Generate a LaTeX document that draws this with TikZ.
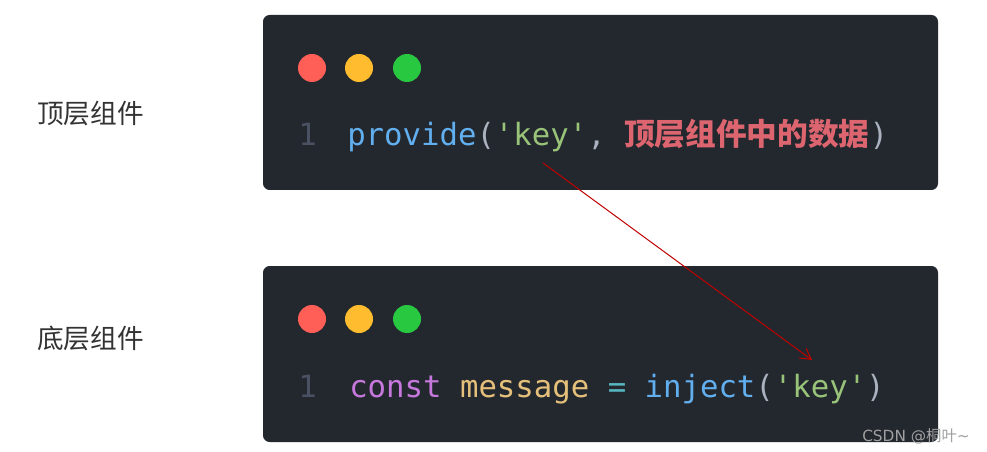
\documentclass[tikz,border=0pt]{standalone}
\usepackage{fontspec}
\setmainfont{DejaVu Sans}
\setmonofont{DejaVu Sans Mono}
\newfontfamily\cjk{Noto Sans CJK SC}
\usepackage{tikz}
\usetikzlibrary{arrows.meta}
\usepackage{xcolor}
\definecolor{panel}{HTML}{23272E}
\definecolor{linenum}{HTML}{495162}
\definecolor{fnblue}{HTML}{61AFEF}
\definecolor{strgreen}{HTML}{98C379}
\definecolor{cjkred}{HTML}{DC6570}
\definecolor{paren}{HTML}{ABB2BF}
\definecolor{kwpurple}{HTML}{C678DD}
\definecolor{varyellow}{HTML}{E5C07B}
\definecolor{opcyan}{HTML}{56B6C2}
\definecolor{dotred}{HTML}{FF5F57}
\definecolor{dotyellow}{HTML}{FEBC2E}
\definecolor{dotgreen}{HTML}{28C840}
\definecolor{labelgray}{HTML}{333333}
\definecolor{markgray}{HTML}{A0A0A0}
\definecolor{linkred}{HTML}{C00000}
\newcommand{\keystr}{\textcolor{strgreen}{'key'}}

\begin{document}
\begin{tikzpicture}[x=0.75pt,y=-0.75pt]
\tikzstyle{panelbox}=[fill=panel,rounded corners=5pt,minimum width=506.25pt,inner sep=0pt]
\tikzstyle{dot}=[circle,minimum size=21pt,inner sep=0pt]
\tikzstyle{codeline}=[anchor=base west,inner sep=0pt,font=\ttfamily\fontsize{23}{23}\selectfont]
\tikzstyle{layer}=[anchor=west,inner sep=0pt,text=labelgray,font=\cjk\fontsize{20}{20}\selectfont]
\useasboundingbox[fill=white] (0,0) rectangle (987,452);
\node[panelbox,minimum height=131.25pt] (toppanel) at (600.5,102.5) {};
\node[panelbox,minimum height=132pt] (botpanel) at (600.5,354) {};
\foreach \x/\c in {312/dotred,359/dotyellow,407/dotgreen}{
  \node[dot,fill=\c] (tdot\x) at (\x,68) {};
  \node[dot,fill=\c] (bdot\x) at (\x,319) {};
}
\node[codeline,text=linenum] (tnum) at (298,146) {1};
\node[codeline] (tcode) at (347,146) {\textcolor{fnblue}{provide}\textcolor{paren}{(}\keystr\textcolor{paren}{,} {\cjk\bfseries\color{cjkred}顶层组件中的数据}\textcolor{paren}{)}};
\node[codeline,text=linenum] (bnum) at (298,397) {1};
\node[codeline] (bcode) at (349,397) {\textcolor{kwpurple}{const} \textcolor{varyellow}{message} \textcolor{opcyan}{=} \textcolor{fnblue}{inject}\textcolor{paren}{(}\keystr\textcolor{paren}{)}};
\node[layer] (toplabel) at (37,113) {顶层组件};
\node[layer] (botlabel) at (37,338) {底层组件};
\node[anchor=west,inner sep=0pt,text=markgray,font=\fontsize{11.5}{11.5}\selectfont] (mark) at (862,436) {CSDN @{\cjk 桐叶}\textasciitilde};
% provide key -> inject key
\coordinate (keyout) at (543,163);
\coordinate (keyin) at (812,360);
\draw[linkred,line width=0.75pt,arrows={-Straight Barb[length=8pt,width=9pt]}] (keyout) -- (keyin);
\end{tikzpicture}
\end{document}
